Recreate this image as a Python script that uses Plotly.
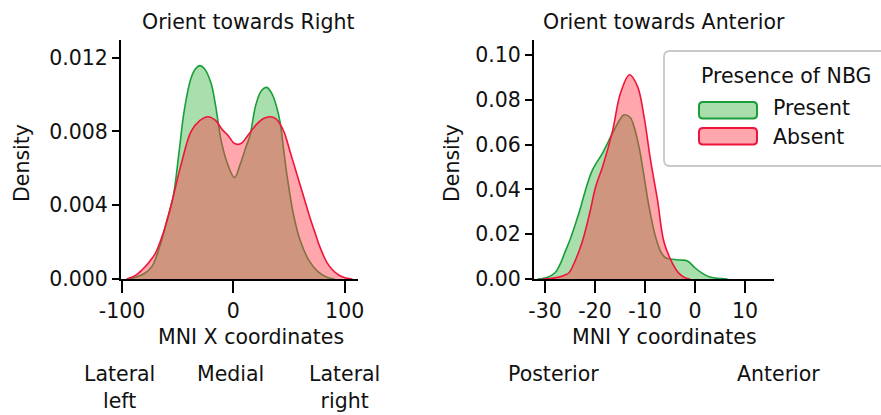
import plotly.graph_objects as go

W, H = 881, 415

# ---------------- data ----------------
titles = ["Orient towards Right", "Orient towards Anterior"]
series_names = ["Present", "Absent"]
legend_title = "Presence of NBG"

# Left panel: MNI X coordinates
x_left_present = [-95, -88, -80, -73, -66, -60, -54, -49, -44, -38, -34, -30, -26, -20, -16, -11, -5, 1,
                  6, 11, 15, 20, 25, 30, 35, 39, 42, 45, 48, 54, 60, 68, 76, 84, 91]
d_left_present = [0.0, 0.0001, 0.0003, 0.0007, 0.0018, 0.0031, 0.0045, 0.0068, 0.0092, 0.0109, 0.0114,
                  0.01157, 0.0114, 0.0106, 0.0094, 0.0075, 0.0062, 0.0055, 0.0062, 0.0071, 0.0078,
                  0.0094, 0.0102, 0.01039, 0.0100, 0.0093, 0.0085, 0.0071, 0.0057, 0.0035, 0.0021,
                  0.0010, 0.0004, 0.0001, 0.0]
x_left_absent = [-96, -88, -82, -76, -70, -63, -56, -47, -38, -30, -23, -16, -10, -5, 0, 4, 8, 12, 17, 21,
                 27, 33, 38, 42, 46, 51, 55, 60, 64, 69, 74, 78, 84, 89, 95, 101, 107]
d_left_absent = [0.0, 0.0002, 0.0005, 0.0009, 0.0014, 0.0025, 0.0040, 0.0062, 0.0080, 0.0086, 0.0088,
                 0.0086, 0.0081, 0.0078, 0.0074, 0.0073, 0.0074, 0.0077, 0.0081, 0.0084, 0.0087,
                 0.0088, 0.0087, 0.0084, 0.0079, 0.0069, 0.0061, 0.0051, 0.0043, 0.0033, 0.0024,
                 0.0017, 0.0009, 0.0005, 0.0002, 0.00005, 0.0]

# Right panel: MNI Y coordinates
x_right_present = [-31.5, -29.5, -28, -27, -26, -25, -24, -23, -22, -20.5, -18.5, -16.5, -15, -14.2, -13,
                   -12.2, -11.2, -10.5, -9.2, -7.9, -6.8, -5.9, -4.5, -3, -1.5, 0.1, 1.5, 2.8, 4.5, 6.5]
d_right_present = [0.0, 0.0008, 0.0028, 0.0065, 0.012, 0.0175, 0.024, 0.031, 0.039, 0.0487, 0.0562,
                   0.0651, 0.0712, 0.0733, 0.0722, 0.0681, 0.0590, 0.0502, 0.0323, 0.0189, 0.0120,
                   0.0095, 0.0088, 0.0085, 0.0080, 0.0048, 0.0025, 0.0010, 0.0003, 0.0]
x_right_absent = [-30.5, -28, -26, -25.2, -24, -22.5, -21, -19.9, -18.5, -16.5, -14.9, -13.1, -11.5,
                  -10.2, -8.9, -7.5, -6.2, -4.5, -3.2, -2, -1]
d_right_absent = [0.0, 0.0005, 0.0018, 0.0028, 0.008, 0.017, 0.030, 0.041, 0.050, 0.066, 0.083, 0.0912,
                  0.086, 0.0726, 0.0532, 0.0353, 0.0165, 0.007, 0.0025, 0.0006, 0.0]

xl_tickvals = [-100, 0, 100]
xl_ticktext = ["-100", "0", "100"]
yl_tickvals = [0.0, 0.004, 0.008, 0.012]
xr_tickvals = [-30, -20, -10, 0, 10]
xr_ticktext = ["-30", "-20", "-10", "0", "10"]
yr_tickvals = [0.0, 0.02, 0.04, 0.06, 0.08, 0.10]

x_titles = ["MNI X coordinates", "MNI Y coordinates"]
y_title = "Density"
direction_labels_left = ["Lateral<br>left", "Medial", "Lateral<br>right"]
direction_labels_right = ["Posterior", "Anterior"]

# ---------------- styling ----------------
FONT = "DejaVu Sans"
FS = 20.5
TXT = "#111111"
GREEN_LINE = "#1a9e3a"
GREEN_FILL = "rgba(30,170,40,0.38)"
RED_LINE = "#f0143c"
RED_FILL = "rgba(255,60,70,0.45)"


def px(x):
    return x / W


def py(y):
    return 1 - y / H


fig = go.Figure()

panels = [
    ("x", "y", x_left_present, d_left_present, x_left_absent, d_left_absent),
    ("x2", "y2", x_right_present, d_right_present, x_right_absent, d_right_absent),
]
for xa, ya, xp, dp, xab, dab in panels:
    fig.add_trace(go.Scatter(x=xp, y=dp, xaxis=xa, yaxis=ya, mode="lines", fill="tozeroy",
                             fillcolor=GREEN_FILL, line=dict(color=GREEN_LINE, width=1.6, shape="spline"),
                             name=series_names[0], showlegend=False, hoverinfo="skip"))
    fig.add_trace(go.Scatter(x=xab, y=dab, xaxis=xa, yaxis=ya, mode="lines", fill="tozeroy",
                             fillcolor=RED_FILL, line=dict(color=RED_LINE, width=1.6, shape="spline"),
                             name=series_names[1], showlegend=False, hoverinfo="skip"))

axis_common = dict(showgrid=False, zeroline=False, showline=True, linecolor="black", linewidth=2,
                   ticks="outside", tickcolor="black", tickwidth=2, automargin=False,
                   tickfont=dict(family=FONT, size=FS, color=TXT), mirror=False)
inner_common = dict(ticks="inside", ticklen=7, tickwidth=2, tickcolor="black", automargin=False,
                    showticklabels=False, showline=False, showgrid=False, zeroline=False, side="left")

dom_y = [py(279), py(40)]
fig.update_layout(
    template="none",
    width=W, height=H, margin=dict(l=0, r=0, t=0, b=0, pad=0), autosize=False,
    paper_bgcolor="white", plot_bgcolor="rgba(0,0,0,0)",
    showlegend=False,
    xaxis=dict(domain=[px(121), px(358)], range=[-101, 112], anchor="y",
               tickvals=xl_tickvals, ticktext=xl_ticktext, ticklen=12, **axis_common),
    yaxis=dict(domain=dom_y, range=[0, 0.01296], anchor="x",
               tickvals=yl_tickvals, tickformat=".3f", ticklen=7, **axis_common),
    xaxis2=dict(domain=[px(534), px(774)], range=[-32.2, 15.8], anchor="y2",
                tickvals=xr_tickvals, ticktext=xr_ticktext, ticklen=12, **axis_common),
    yaxis2=dict(domain=dom_y, range=[0, 0.1067], anchor="x2",
                tickvals=yr_tickvals, tickformat=".2f", ticklen=7, **axis_common),
    # overlay axes to draw the inner half of the crossing y ticks
    yaxis3=dict(domain=dom_y, range=[0, 0.01296], anchor="x", overlaying="y",
                tickvals=yl_tickvals, **inner_common),
    yaxis4=dict(domain=dom_y, range=[0, 0.1067], anchor="x2", overlaying="y2",
                tickvals=yr_tickvals, **inner_common),
)

ann = []


def text(x, y, s, size=FS, xanchor="center", yanchor="middle", angle=0):
    ann.append(dict(x=px(x), y=py(y), xref="paper", yref="paper", text=s, showarrow=False,
                    xanchor=xanchor, yanchor=yanchor, textangle=angle,
                    font=dict(family=FONT, size=size, color=TXT)))


text(248.5, 22, titles[0])
text(663.7, 22, titles[1])
text(251, 337, x_titles[0])
text(664.5, 337, x_titles[1])
text(22, 163, y_title, angle=-90)
text(452, 163, y_title, angle=-90)
for xpx, s in zip([119, 230, 344.5], direction_labels_left):
    ann.append(dict(x=px(xpx), y=py(360), xref="paper", yref="paper", text=s, showarrow=False,
                    xanchor="center", yanchor="top", align="center",
                    font=dict(family=FONT, size=FS, color=TXT)))
for xpx, s in zip([553, 778.3], direction_labels_right):
    ann.append(dict(x=px(xpx), y=py(360), xref="paper", yref="paper", text=s, showarrow=False,
                    xanchor="center", yanchor="top", align="center",
                    font=dict(family=FONT, size=FS, color=TXT)))

# legend (drawn manually to match the reference layout)
text(785.5, 76, legend_title)
text(771, 108, series_names[0], xanchor="left")
text(771, 137, series_names[1], xanchor="left")
fig.update_layout(annotations=ann)


def rounded_rect(x0, y0, x1, y1, r):
    rx, ry = r / W, r / H
    X0, X1 = px(x0), px(x1)
    Y0, Y1 = py(y1), py(y0)
    return (f"M {X0+rx},{Y0} L {X1-rx},{Y0} Q {X1},{Y0} {X1},{Y0+ry} "
            f"L {X1},{Y1-ry} Q {X1},{Y1} {X1-rx},{Y1} L {X0+rx},{Y1} Q {X0},{Y1} {X0},{Y1-ry} "
            f"L {X0},{Y0+ry} Q {X0},{Y0} {X0+rx},{Y0} Z")


shapes = [
    dict(type="path", xref="paper", yref="paper", path=rounded_rect(664, 51, 895, 166, 6),
         line=dict(color="#c8c8c8", width=1.8), fillcolor="rgba(255,255,255,0.85)", layer="above"),
    dict(type="path", xref="paper", yref="paper", path=rounded_rect(699, 102, 757, 118.5, 4),
         line=dict(color=GREEN_LINE, width=2), fillcolor=GREEN_FILL, layer="above"),
    dict(type="path", xref="paper", yref="paper", path=rounded_rect(699, 128, 757, 144.5, 4),
         line=dict(color=RED_LINE, width=2), fillcolor=RED_FILL, layer="above"),
]
fig.update_layout(shapes=shapes)

fig.write_html("out.html")
